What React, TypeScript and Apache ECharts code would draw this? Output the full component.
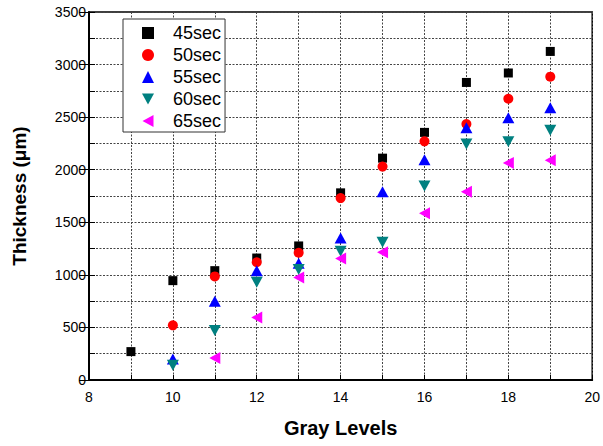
import React, { useEffect, useRef } from "react";
import * as echarts from "echarts";

const xLevels = [9, 10, 11, 12, 13, 14, 15, 16, 17, 18, 19];
const s45 = [270, 945, 1040, 1160, 1275, 1780, 2110, 2355, 2830, 2920, 3125];
const s50x = [10, 11, 12, 13, 14, 15, 16, 17, 18, 19];
const s50 = [520, 985, 1120, 1210, 1730, 2030, 2270, 2435, 2675, 2885];
const s55x = [10, 11, 12, 13, 14, 15, 16, 17, 18, 19];
const s55 = [200, 750, 1040, 1110, 1350, 1790, 2095, 2400, 2495, 2590];
const s60x = [10, 11, 12, 13, 14, 15, 16, 17, 18, 19];
const s60 = [140, 470, 930, 1050, 1225, 1310, 1845, 2245, 2265, 2375];
const s65x = [11, 12, 13, 14, 15, 16, 17, 18, 19];
const s65 = [210, 595, 975, 1155, 1215, 1585, 1790, 2065, 2090];
const seriesNames = ["45sec", "50sec", "55sec", "60sec", "65sec"];
const xTicks = [8, 10, 12, 14, 16, 18, 20];

const FONT = "Arial, 'Liberation Sans', sans-serif";
const DOWN_TRI = "path://M0,0 L12,0 L6,11 Z";
const LEFT_TRI = "path://M11,0 L11,12 L0,6 Z";

function pairs(xs: number[], ys: number[]) {
  return xs.map((x, i) => [x, ys[i]]);
}

export default function App() {
  const ref = useRef<HTMLDivElement>(null);
  useEffect(() => {
    if (!ref.current) return;
    const chart = echarts.init(ref.current, undefined, { renderer: "svg" });
    const grid = "#444";
    const splitStyle = { color: grid, type: [2, 1.5], width: 1 };
    chart.setOption({
      animation: false,
      backgroundColor: "#fff",
      textStyle: { fontFamily: FONT },
      grid: {
        left: 89,
        right: 9,
        top: 12,
        bottom: 66,
        show: true,
        borderColor: "#000",
        borderWidth: 1.5,
        backgroundColor: "transparent",
      },
      legend: {
        orient: "vertical",
        left: 123,
        top: 19,
        padding: [5, 4, 2, 19],
        itemWidth: 12,
        itemHeight: 12,
        itemGap: 4,
        borderColor: "#333",
        borderWidth: 1,
        backgroundColor: "#fff",
        data: [
          { name: seriesNames[0], icon: "rect", itemStyle: { color: "#000" } },
          { name: seriesNames[1], icon: "circle" },
          { name: seriesNames[2], icon: "triangle" },
          { name: seriesNames[3], icon: DOWN_TRI },
          { name: seriesNames[4], icon: LEFT_TRI },
        ],
        textStyle: {
          fontSize: 18,
          lineHeight: 18,
          color: "#000",
          fontFamily: FONT,
          padding: [0, 0, 0, 14],
        },
      },
      xAxis: [
        {
          type: "value",
          min: 8,
          max: 20,
          interval: 1,
          name: "Gray Levels",
          nameLocation: "middle",
          nameGap: 38,
          nameTextStyle: { fontSize: 20, fontWeight: "bold", color: "#000", fontFamily: FONT },
          axisLine: { show: true, lineStyle: { color: "#000", width: 2 } },
          axisTick: { show: true, inside: true, length: 5, lineStyle: { color: "#000", width: 1 } },
          axisLabel: {
            fontSize: 14,
            color: "#000",
            margin: 10,
            formatter: (v: number) => (xTicks.indexOf(v) >= 0 ? String(v) : ""),
          },
          splitLine: { show: true, lineStyle: splitStyle },
        },
      ],
      yAxis: [
        {
          type: "value",
          min: 0,
          max: 3500,
          interval: 500,
          name: "Thickness (\u03bcm)",
          nameLocation: "middle",
          nameGap: 60,
          nameTextStyle: { fontSize: 19, fontWeight: "bold", color: "#000", fontFamily: FONT },
          axisLine: { show: true, lineStyle: { color: "#000", width: 2 } },
          axisTick: { show: true, inside: false, length: 10, lineStyle: { color: "#000", width: 1 } },
          axisLabel: { fontSize: 14, color: "#000", margin: 3, formatter: (v: number) => String(v) },
          splitLine: { show: false },
        },
        {
          type: "value",
          min: 0,
          max: 3500,
          interval: 250,
          position: "left",
          axisLine: { show: false },
          axisTick: { show: true, inside: true, length: 6, lineStyle: { color: "#000", width: 1 } },
          axisLabel: { show: false },
          splitLine: { show: true, lineStyle: splitStyle },
        },
      ],
      series: [
        {
          name: seriesNames[0],
          type: "scatter",
          symbol: "rect",
          symbolSize: 9,
          itemStyle: { color: "#000000", opacity: 1 },
          data: pairs(xLevels, s45),
        },
        {
          name: seriesNames[1],
          type: "scatter",
          symbol: "circle",
          symbolSize: 10,
          itemStyle: { color: "#ff0000", opacity: 1 },
          data: pairs(s50x, s50),
        },
        {
          name: seriesNames[2],
          type: "scatter",
          symbol: "triangle",
          symbolSize: [12, 11],
          itemStyle: { color: "#0000ff", opacity: 1 },
          data: pairs(s55x, s55),
        },
        {
          name: seriesNames[3],
          type: "scatter",
          symbol: DOWN_TRI,
          symbolSize: [12, 11],
          itemStyle: { color: "#008080", opacity: 1 },
          data: pairs(s60x, s60),
        },
        {
          name: seriesNames[4],
          type: "scatter",
          symbol: LEFT_TRI,
          symbolSize: [11, 12],
          itemStyle: { color: "#ff00ff", opacity: 1 },
          data: pairs(s65x, s65),
        },
      ],
    });
    return () => chart.dispose();
  }, []);
  return (
    <div
      ref={ref}
      style={{ position: "fixed", left: 0, top: 0, width: 603, height: 446, background: "#fff" }}
    />
  );
}
